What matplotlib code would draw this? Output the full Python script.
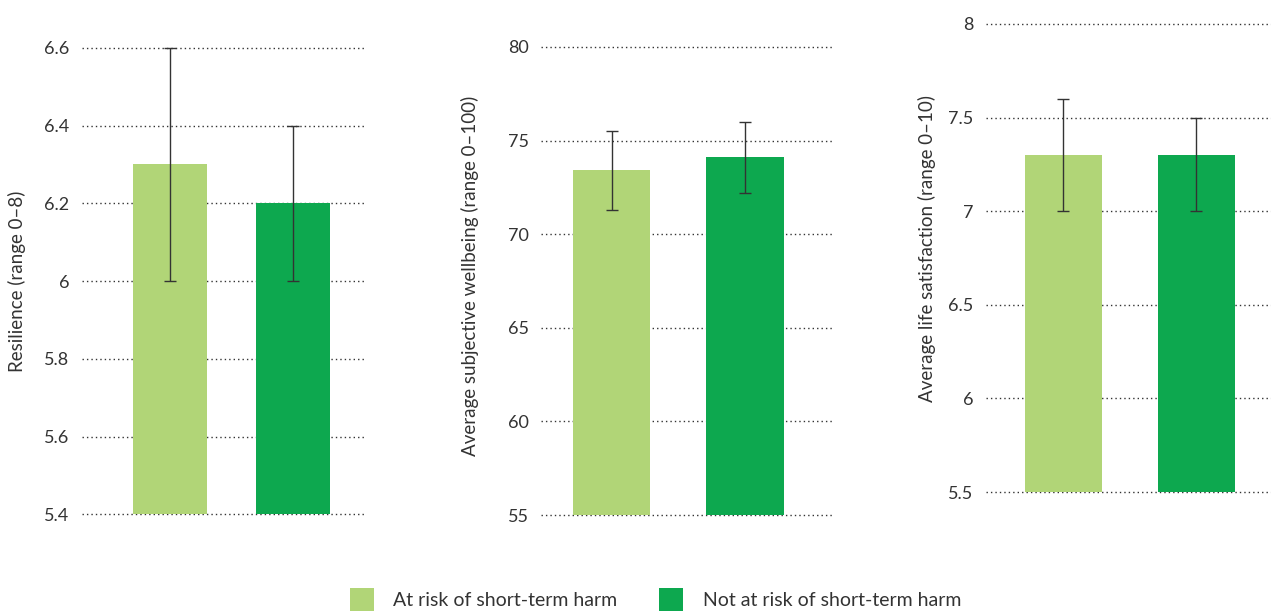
import matplotlib.pyplot as plt
from matplotlib.patches import Patch

plt.rcParams['font.family'] = ['Lato', 'DejaVu Sans']

groups = ['At risk of short-term harm', 'Not at risk of short-term harm']
colors = ['#B1D577', '#0DA84F']

# resilience
res_vals = [6.3, 6.2]
res_low = [6.0, 6.0]
res_high = [6.6, 6.4]
res_ticks = [5.4, 5.6, 5.8, 6.0, 6.2, 6.4, 6.6]
res_labels = ['5.4', '5.6', '5.8', '6', '6.2', '6.4', '6.6']

# subjective wellbeing
swb_vals = [73.4, 74.1]
swb_low = [71.3, 72.2]
swb_high = [75.5, 76.0]
swb_ticks = [55, 60, 65, 70, 75, 80]
swb_labels = ['55', '60', '65', '70', '75', '80']

# life satisfaction
ls_vals = [7.3, 7.3]
ls_low = [7.0, 7.0]
ls_high = [7.6, 7.5]
ls_ticks = [5.5, 6.0, 6.5, 7.0, 7.5, 8.0]
ls_labels = ['5.5', '6', '6.5', '7', '7.5', '8']

panels = [
    dict(vals=res_vals, low=res_low, high=res_high, ticks=res_ticks, labels=res_labels,
         ylabel='Resilience (range 0–8)', rect=[0.0645, 0.158, 0.223, 0.767],
         xlim=(-0.715, 1.585), width=0.6, labx=-0.198, laby=0.5),
    dict(vals=swb_vals, low=swb_low, high=swb_high, ticks=swb_ticks, labels=swb_labels,
         ylabel='Average subjective wellbeing (range 0–100)', rect=[0.4257, 0.1566, 0.2297, 0.770],
         xlim=(-0.53, 1.66), width=0.58, labx=-0.212, laby=0.51),
    dict(vals=ls_vals, low=ls_low, high=ls_high, ticks=ls_ticks, labels=ls_labels,
         ylabel='Average life satisfaction (range 0–10)', rect=[0.7758, 0.1941, 0.2242, 0.770],
         xlim=(-0.58, 1.56), width=0.58, labx=-0.175, laby=0.52),
]

fig = plt.figure(figsize=(12.71, 6.13), dpi=100)

for p in panels:
    ax = fig.add_axes(p['rect'])
    base = p['ticks'][0]
    top = p['ticks'][-1]
    x = [0, 1]
    heights = [v - base for v in p['vals']]
    ax.bar(x, heights, bottom=base, width=p['width'], color=colors, zorder=2)
    yerr = [[v - lo for v, lo in zip(p['vals'], p['low'])],
            [hi - v for v, hi in zip(p['vals'], p['high'])]]
    ax.errorbar(x, p['vals'], yerr=yerr, fmt='none', ecolor='#333333',
                elinewidth=1, capsize=4, capthick=1, zorder=3)
    pad = (top - base) * 0.004
    ax.set_ylim(base - pad, top + pad)
    ax.set_xlim(*p['xlim'])
    ax.set_yticks(p['ticks'])
    ax.set_yticklabels(p['labels'])
    ax.set_xticks([])
    ax.set_axisbelow(True)
    ax.yaxis.grid(True, linestyle=(0, (1, 2.2)), color='#333333', linewidth=1)
    for s in ax.spines.values():
        s.set_visible(False)
    ax.tick_params(axis='y', length=0, pad=9, labelsize=13, labelcolor='#333333')
    ax.set_ylabel(p['ylabel'], fontsize=13.5, color='#333333')
    ax.yaxis.set_label_coords(p['labx'], p['laby'])

handles = [Patch(facecolor=c, edgecolor='none', label=g) for c, g in zip(colors, groups)]
fig.legend(handles=handles, loc='center', bbox_to_anchor=(0.5157, 0.022), ncol=2,
           frameon=False, fontsize=14, handlelength=1.24, handleheight=1.45,
           handletextpad=1.0, columnspacing=2.15, labelcolor='#333333',
           borderpad=0, borderaxespad=0)

fig.savefig('out.png', dpi=100)
